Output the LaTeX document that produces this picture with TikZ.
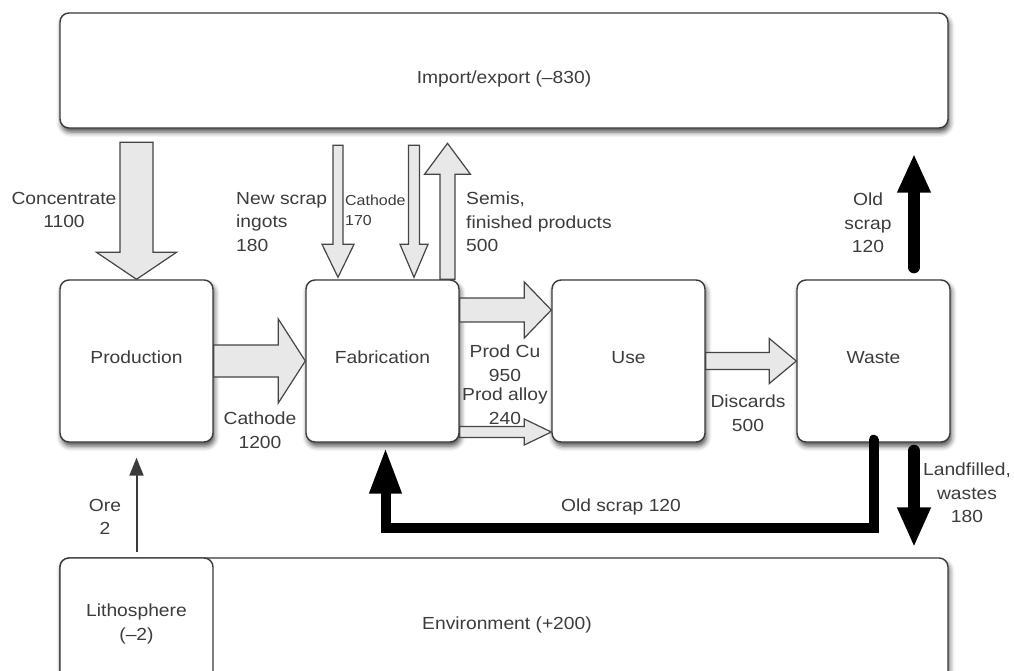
\documentclass[tikz,border=0pt]{standalone}
\usepackage{fontspec}
\setmainfont{Liberation Sans}[FakeStretch=1.1]
\usetikzlibrary{calc,shadows.blur,arrows.meta}

\definecolor{ink}{HTML}{3A3A3A}
\definecolor{txt}{HTML}{3C3C3C}
\definecolor{flowfill}{HTML}{E8E8E8}
\definecolor{flowline}{HTML}{454545}

\newcommand\lblfont{\fontsize{17.5}{23.5}\selectfont}
\newcommand\smlfont{\fontsize{14.5}{20}\selectfont}

% Wide block arrow from #1 to #2: shaft half-width #3, head half-width #4,
% head length #5; #6 names the helper coordinate at the head base.
\newcommand\flowarrow[6]{%
  \coordinate (#6-h) at ($(#2)!#5!(#1)$);
  \filldraw[flowarr]
    ($(#1)!#3!90:(#2)$) -- ($(#6-h)!#3!-90:(#1)$) -- ($(#6-h)!#4!-90:(#1)$)
    -- (#2) --
    ($(#6-h)!#4!90:(#1)$) -- ($(#6-h)!#3!90:(#1)$) -- ($(#1)!#3!-90:(#2)$) -- cycle;
}

\tikzset{
  plainbox/.style={draw=ink, line width=1.4pt, fill=white, rounded corners=9pt,
    inner sep=0pt, text=txt, font=\lblfont, align=center},
  box/.style={plainbox,
    blur shadow={shadow xshift=1.5pt, shadow yshift=-4pt,
      shadow blur radius=5pt, shadow opacity=70}},
  stagebox/.style={box, minimum width=153pt, minimum height=162pt},
  flowarr/.style={fill=flowfill, draw=flowline, line width=1.2pt, line join=miter},
  lbl/.style={font=\lblfont, text=txt, inner sep=0pt, align=center},
  heavy/.style={draw=black, line width=#1, line cap=round, line join=miter},
}

\begin{document}
\begin{tikzpicture}[x=1pt,y=-1pt]
\useasboundingbox (0,0) rectangle (1014,670);
\clip (0,0) rectangle (1014,670);

% reservoirs
\node[box, minimum width=888pt, minimum height=115pt,
      label={[lbl, yshift=-8pt]center:Import/export (–830)}] (imp) at (504,70.5) {};
\node[box, minimum width=888pt, minimum height=132pt] (env) at (504,624) {};
\node[lbl] (envtxt) at (507,625) {Environment (+200)};
\node[plainbox, minimum width=153pt, minimum height=132pt] (litho) at (136.5,624) {Lithosphere\\(–2)};

% process stages
\node[stagebox, text depth=8pt] (prod)  at (136.5,361) {Production};
\node[stagebox, text depth=8pt] (fab)   at (382.5,361) {Fabrication};
\node[stagebox, text depth=8pt] (use)   at (628.5,361) {Use};
\node[stagebox, text depth=8pt] (waste) at (873.5,361) {Waste};

% wide flows
\coordinate (conc-s) at ($(prod.north)+(0,-137)$);
\flowarrow{conc-s}{prod.north}{16.5pt}{40pt}{27pt}{conc}
\flowarrow{prod.east}{fab.west}{16pt}{42pt}{27pt}{cath}

\coordinate (scrap-e) at ($(fab.north)+(-44.5,-2)$);
\coordinate (scrap-s) at ($(fab.north)+(-44.5,-134)$);
\flowarrow{scrap-s}{scrap-e}{5pt}{16pt}{33pt}{scrap}
\coordinate (cat-e) at ($(fab.north)+(31.5,-2)$);
\coordinate (cat-s) at ($(fab.north)+(31.5,-134)$);
\flowarrow{cat-s}{cat-e}{5.5pt}{14pt}{33pt}{cat}
\coordinate (semi-s) at ($(fab.north)+(65,0)$);
\coordinate (semi-e) at ($(fab.north)+(65,-136)$);
\flowarrow{semi-s}{semi-e}{7.5pt}{23pt}{31pt}{semi}

\coordinate (cu-s) at ($(fab.east)+(0,-51)$);
\coordinate (cu-e) at ($(use.west)+(0,-51)$);
\flowarrow{cu-s}{cu-e}{12pt}{28pt}{27pt}{cu}
\coordinate (al-s) at ($(fab.east)+(0,71)$);
\coordinate (al-e) at ($(use.west)+(0,71)$);
\flowarrow{al-s}{al-e}{5.5pt}{13pt}{27pt}{alloy}
\flowarrow{use.east}{waste.west}{8.5pt}{22.5pt}{27pt}{disc}

% heavy black flows
\coordinate (old-s) at ($(waste.north)+(40.5,-12)$);
\draw[heavy=12pt, -{Triangle[width=31pt,length=39pt]}]
  (old-s) -- ($(old-s |- imp.south)+(0,25)$);
\coordinate (land-s) at ($(waste.south)+(40.5,8)$);
\draw[heavy=12pt, -{Triangle[width=31pt,length=40pt]}]
  (land-s) -- ($(land-s |- env.north)+(0,-10)$);
\coordinate (loopy) at (0,528);
\draw[heavy=10pt, -{Triangle[width=30pt,length=46pt]}]
  ($(waste.south)+(0,-3)$) -- (waste.south |- loopy) -| ($(fab.south)+(3,5)$);

% ore extraction
\draw[draw=ink, line width=2pt, -{Triangle[width=14pt,length=18pt]}]
  ($(litho.north)+(0,-5)$) -- ($(prod.south)+(0,15)$);

% flow labels
\node[lbl] (l-conc) at (64,210) {Concentrate\\1100};
\node[lbl, anchor=west, align=left] (l-scrap) at (236,222) {New scrap\\ingots\\180};
\node[lbl, font=\smlfont, anchor=west, align=left] (l-cat) at (345,210) {Cathode\\170};
\node[lbl, anchor=west, align=left] (l-semi) at (466,222) {Semis,\\finished products\\500};
\node[lbl] (l-cath) at (260,430) {Cathode\\1200};
\node[lbl] (l-cu) at (505,363) {Prod Cu\\950};
\node[lbl] (l-al) at (505,406) {Prod alloy\\240};
\node[lbl] (l-disc) at (748,413) {Discards\\500};
\node[lbl] (l-old) at (868,223) {Old\\scrap\\120};
\node[lbl] (l-land) at (967,493) {Landfilled,\\wastes\\180};
\node[lbl] (l-loop) at (621,507) {Old scrap 120};
\node[lbl] (l-ore) at (105,517) {Ore\\2};
\end{tikzpicture}
\end{document}
